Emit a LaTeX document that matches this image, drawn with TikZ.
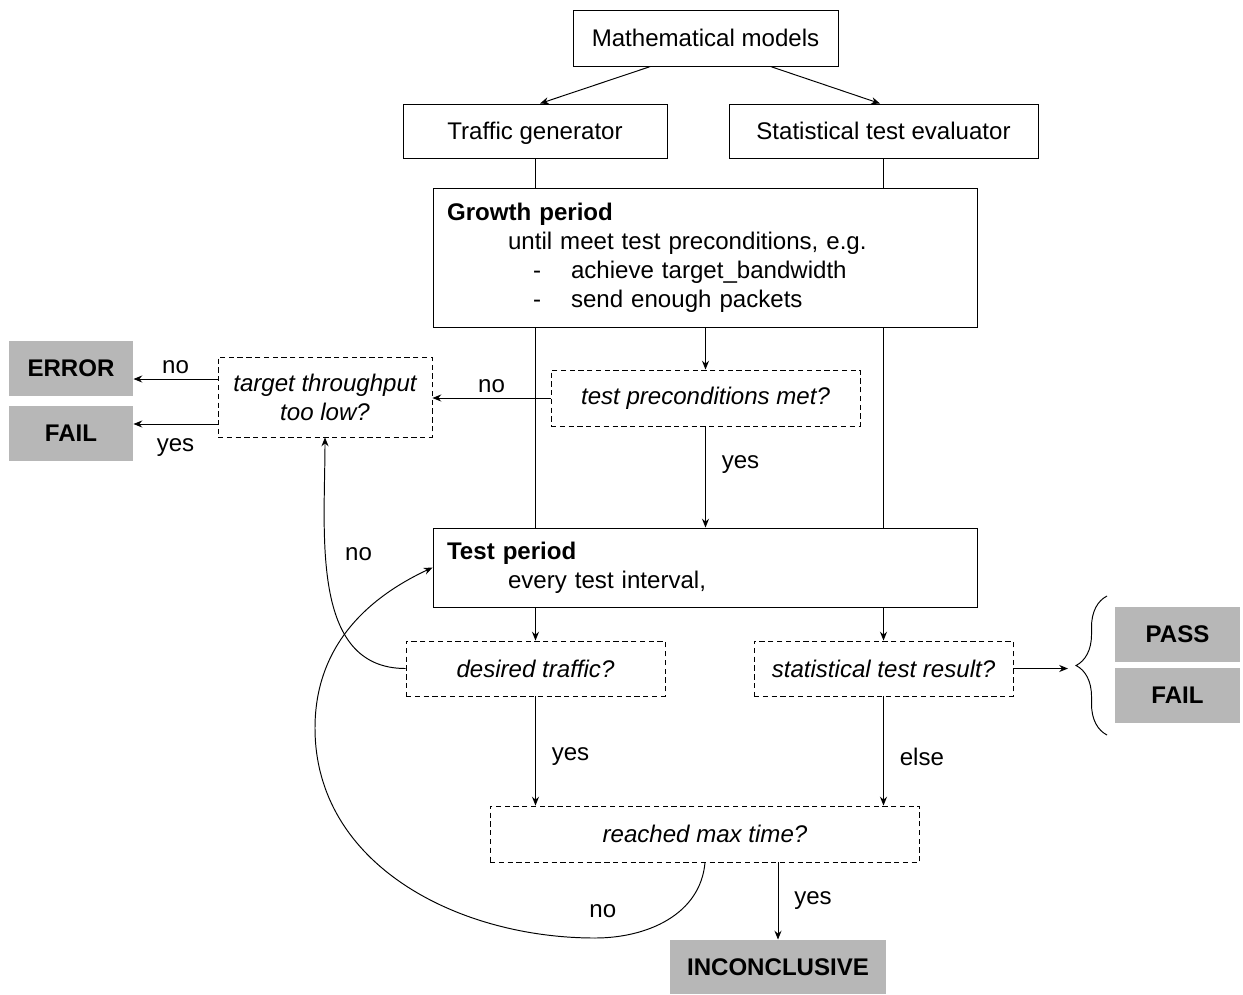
\documentclass[tikz,border=0pt]{standalone}
\usepackage{fontspec}
\setmainfont{Liberation Sans}
\usetikzlibrary{arrows.meta,decorations.pathreplacing}
\definecolor{resultgray}{RGB}{183,183,183}
\newcommand\flowfont{\fontsize{13.7}{16.5}\selectfont}

\begin{document}
\begin{tikzpicture}[x=0.02cm,y=-0.02cm,line width=0.55pt,>={Stealth[length=5pt,width=4pt]}]

      \useasboundingbox (0,0) rectangle (1243,994);

      % plain boxes
      \begin{scope}[every node/.style={draw,align=center,inner sep=0pt,font=\flowfont}]
        \node[minimum width=5.3cm,minimum height=1.12cm]  (1) at (705.5,38)  {Mathematical models};
        \node[minimum width=5.28cm,minimum height=1.08cm,text depth=0pt] (2) at (535,131)   {Traffic generator};
        \node[minimum width=6.18cm,minimum height=1.08cm] (3) at (883.5,131) {Statistical test evaluator};
        \node[align=left,inner xsep=0.28cm,text width=10.34cm,minimum height=2.78cm] (4) at (705.5,257.5)
          {\textbf{Growth period}\\
           \hspace*{1.22cm}until meet test preconditions, e.g.\\
           \hspace*{1.72cm}\makebox[0.76cm][l]{-}achieve target\_bandwidth\\
           \hspace*{1.72cm}\makebox[0.76cm][l]{-}send enough packets};
        \node[align=left,inner xsep=0.28cm,text width=10.34cm,minimum height=1.58cm] (9) at (705.5,567.5)
          {\textbf{Test period}\\
           \hspace*{1.22cm}every test interval,};
      \end{scope}

      % questions
      \begin{scope}[every node/.style={draw,dash pattern=on 3pt off 2pt,align=center,inner sep=0pt,font=\flowfont\itshape}]
        \node[minimum width=6.18cm,minimum height=1.12cm] (5)  at (705.5,398)   {test preconditions met?};
        \node[minimum width=4.28cm,minimum height=1.6cm]  (6)  at (325,397)     {target throughput\\too low?};
        \node[minimum width=5.18cm,minimum height=1.1cm]  (10) at (535.5,668.5) {desired traffic?};
        \node[minimum width=5.18cm,minimum height=1.1cm]  (11) at (883.5,668.5) {statistical test result?};
        \node[minimum width=8.6cm,minimum height=1.12cm]  (14) at (705,834)     {reached max time?};
      \end{scope}

      % results
      \begin{scope}[every node/.style={fill=resultgray,inner sep=0pt,font=\flowfont\bfseries}]
        \node[minimum width=2.48cm,minimum height=1.1cm]  (7)  at (71,368.5)    {ERROR};
        \node[minimum width=2.48cm,minimum height=1.1cm]  (8)  at (71,433.5)    {FAIL};
        \node[minimum width=2.5cm,minimum height=1.1cm]   (12) at (1177.5,634.5) {PASS};
        \node[minimum width=2.5cm,minimum height=1.1cm]   (13) at (1177.5,695.5) {FAIL};
        \node[minimum width=4.32cm,minimum height=1.08cm] (15) at (778,967)     {INCONCLUSIVE};
      \end{scope}

      \coordinate (16) at (1068,668.5);
      \draw[decorate,decoration={brace,amplitude=0.62cm}] (1107,735) -- (1107,596);

      \begin{scope}[every node/.style={font=\flowfont,inner sep=3pt}]

        \begin{scope}[every edge/.style={draw,->}]
          \path ([xshift=-1.1cm]1.south) edge ([xshift=.1cm]2.north);
          \path ([xshift=1.3cm]1.south)  edge ([xshift=-.07cm]3.north);
          \path (2.south)    edge[-] (2.south |- 4.north);
          \path (3.south)    edge[-] (3.south |- 4.north);
          \path (4.south -| 2) edge[-] (9.north -| 2);
          \path (4.south -| 3) edge[-] (9.north -| 3);
          \path (4)  edge (5);
          \path (5.west) edge node[above] {no} (5.west -| 6.east);
          \path ([yshift=.36cm]6.west)  edge node[above] {no}  ([yshift=.36cm]6.west -| 7.east);
          \path ([yshift=-.54cm]6.west) edge node[below=5pt] {yes} ([yshift=-.54cm]6.west -| 8.east);
          \path (5)  edge node[pos=0.38,right=6pt] {yes} (9);
          \path (9.south -| 10) edge (10);
          \path (9.south -| 11) edge (11);
          \path (11) edge (16);
          \path (10) edge node[pos=0.55,right=6pt] {yes} (10 |- 14.north);
          \path (11) edge node[pos=0.55,right=6pt] {else} (11 |- 14.north);
          \path (14.south -| 15) edge node[right=6pt] {yes} (15);
        \end{scope}

        \draw[->] (10.west) to[out=180,in=-90] node[pos=0.62,right=8pt] {no} (6.south);
        \draw[->] (14.south) to[out=-95,in=0] node[pos=0.95,above=8pt] {no} (595,938)
          to[out=180,in=-90] (315,728) to[out=90,in=205] (9.west);
      \end{scope}

    \end{tikzpicture}
\end{document}
